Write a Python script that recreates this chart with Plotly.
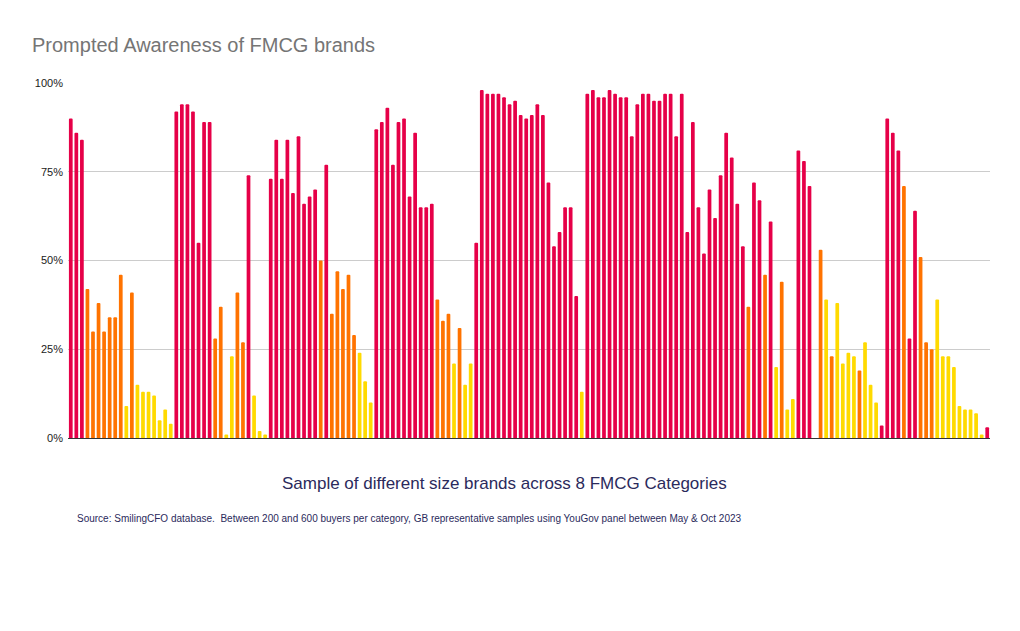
import plotly.graph_objects as go

# Prompted awareness (%) for each sampled brand, left to right
awareness = [
    90, 86, 84, 42, 30, 38, 30, 34, 34, 46, 9, 41, 15, 13, 13, 12, 5, 8, 4,
    92, 94, 94, 92, 55, 89, 89, 28, 37, 1, 23, 41, 27, 74, 12, 2, 1,
    73, 84, 73, 84, 69, 85, 66, 68, 70, 50, 77, 35, 47, 42, 46, 29, 24, 16, 10,
    87, 89, 93, 77, 89, 90, 68, 86, 65, 65, 66, 39, 33, 35, 21, 31, 15, 21,
    55, 98, 97, 97, 97, 96, 94, 95, 91, 90, 91, 94, 91, 72, 54, 58, 65, 65, 40, 13,
    97, 98, 96, 96, 98, 97, 96, 96, 85, 94, 97, 97, 95, 95, 97, 97, 85, 97, 58, 89,
    65, 52, 70, 62, 74, 86, 79, 66, 54, 37, 72, 67, 46, 61, 20, 44, 8, 11,
    81, 78, 71, 0, 53, 39, 23, 38, 21, 24, 23, 19, 27, 15, 10, 3.5,
    90, 86, 81, 71, 28, 64, 51, 27, 25, 39, 23, 23, 20, 9, 8, 8, 7, 1, 3,
]

# Brand tier for each bar (R = large, O = medium, Y = small), same order
tiers = list(
    "RRROOOOOOOYOYYYYYYY"
    "RRRRRRROOYYOORYYY"
    "RRRRRRRRRORO" "OOOOYYY"
    "RRRRRRRRRRROOOYOYY"
    "RRRRRRRRRRRRRRRRRRRY"
    "RRRRRRRRRRRRRRRRRRRR"
    "RRRRRRRRRORRORYOYY"
    "RRRROYOYYYYOYYYR"
    "RRRORROOOYYYYYYYYYR"
)

tier_colors = {"R": "#E60048", "O": "#FF7300", "Y": "#FFDA00"}

brands = [str(i + 1) for i in range(len(awareness))]
colors = [tier_colors[t] for t in tiers]

fig = go.Figure(
    go.Bar(
        x=brands,
        y=awareness,
        marker=dict(color=colors, line=dict(width=0), cornerradius=1),
        hovertemplate="%{y}%<extra></extra>",
    )
)

W, H = 1020, 631
L, R, T, B = 68, 30, 83, 193
plot_h = H - T - B
plot_w = W - L - R

fig.update_layout(
    width=W,
    height=H,
    margin=dict(l=L, r=R, t=T, b=B),
    paper_bgcolor="white",
    plot_bgcolor="white",
    bargap=0.33,
    showlegend=False,
    font=dict(family="Liberation Sans, Arial, sans-serif", color="#1b1b3a"),
    title=dict(
        text="Prompted Awareness of FMCG brands",
        x=32 / W,
        xanchor="left",
        xref="container",
        y=1 - 45 / H,
        yanchor="middle",
        yref="container",
        font=dict(family="Liberation Sans, Arial, sans-serif", size=20, color="#757575"),
    ),
    xaxis=dict(
        type="category",
        showticklabels=False,
        showgrid=False,
        showline=True,
        linecolor="#333333",
        linewidth=1,
        ticks="",
        zeroline=False,
    ),
    yaxis=dict(
        range=[0, 100],
        tickvals=[0, 25, 50, 75, 100],
        ticktext=["0%", "25%", "50%", "75%", "100%"],
        showgrid=True,
        gridcolor="#cccccc",
        gridwidth=1,
        zeroline=False,
        ticks="",
        tickfont=dict(size=11, color="#1a1a1a"),
        ticklabelstandoff=4,
    ),
    annotations=[
        dict(
            text="Sample of different size brands across 8 FMCG Categories",
            xref="paper",
            yref="paper",
            x=(504 - L) / plot_w,
            y=(T + plot_h - 483) / plot_h,
            xanchor="center",
            yanchor="middle",
            showarrow=False,
            font=dict(size=17, color="#2b2a5c"),
        ),
        dict(
            text="Source: SmilingCFO database.  Between 200 and 600 buyers per category, GB representative samples using YouGov panel between May & Oct 2023",
            xref="paper",
            yref="paper",
            x=(75 - L) / plot_w,
            y=(T + plot_h - 518) / plot_h,
            xanchor="left",
            yanchor="middle",
            showarrow=False,
            font=dict(size=10, color="#2b2a5c"),
        ),
    ],
)

fig.write_html("out.html")
